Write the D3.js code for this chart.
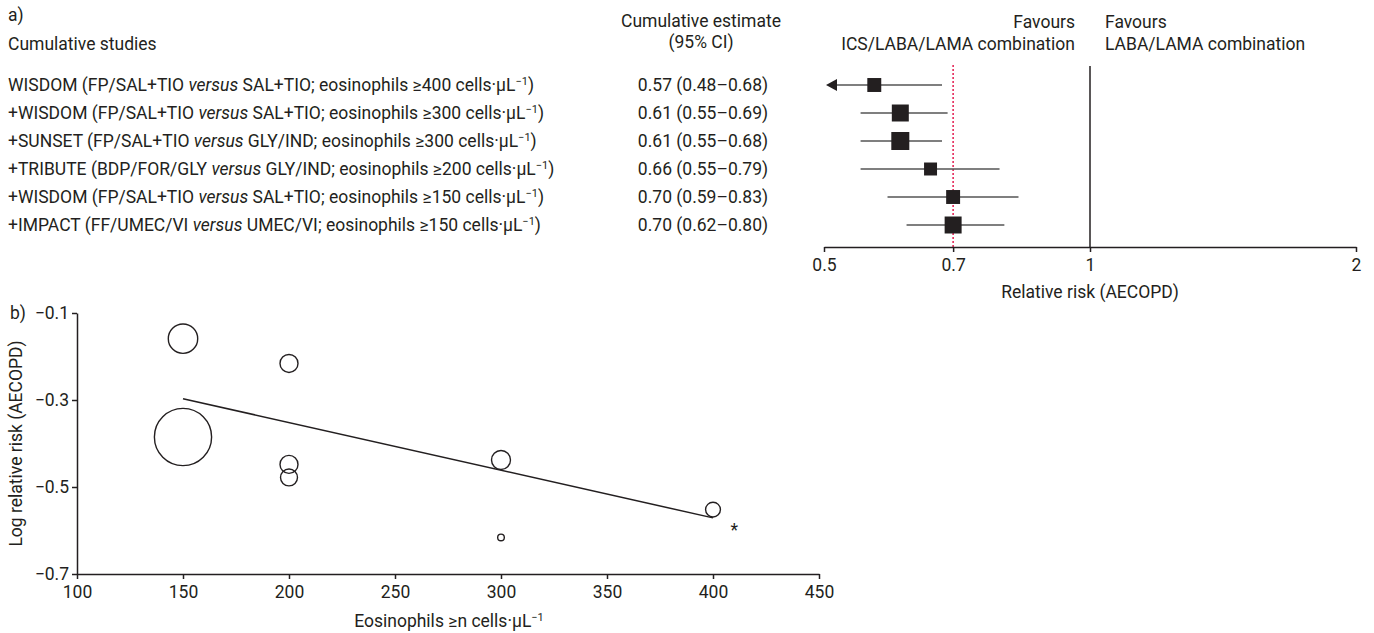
<!DOCTYPE html>
<html>
<head>
<meta charset="utf-8">
<script src="https://cdn.jsdelivr.net/npm/d3@7"></script>
<style>
  body { margin: 0; background: #fff; }
  svg { display: block; font-family: Roboto, "Noto Sans", sans-serif; }
  text { fill: #231f20; font-size: 17.5px; }
</style>
</head>
<body>
<svg width="1374" height="633"></svg>
<script>
// panel a: cumulative meta-analysis
const studies = ["WISDOM", "+WISDOM", "+SUNSET", "+TRIBUTE", "+WISDOM", "+IMPACT"];
const treatment = ["FP/SAL+TIO", "FP/SAL+TIO", "FP/SAL+TIO", "BDP/FOR/GLY", "FP/SAL+TIO", "FF/UMEC/VI"];
const comparator = ["SAL+TIO", "SAL+TIO", "GLY/IND", "GLY/IND", "SAL+TIO", "UMEC/VI"];
const eosCutoff = [400, 300, 300, 200, 150, 150];
const estimate = [0.57, 0.61, 0.61, 0.66, 0.70, 0.70];
const ciLow = [0.48, 0.55, 0.55, 0.55, 0.59, 0.62];
const ciHigh = [0.68, 0.69, 0.68, 0.79, 0.83, 0.80];
const weight = [60, 89, 100, 52, 60, 89];
const pooled = 0.70;
const rrTicks = [0.5, 0.7, 1, 2];

// panel b: meta-regression
const eosX = [150, 150, 200, 200, 200, 300, 300, 400];
const logRR = [-0.159, -0.385, -0.216, -0.448, -0.478, -0.438, -0.616, -0.552];
const bubbleWeight = [216, 818, 81, 81, 72, 90, 11, 55];
const fitX = [150, 400];
const fitY = [-0.297, -0.571];
const starPoint = [410, -0.597];
const eosTicks = [100, 150, 200, 250, 300, 350, 400, 450];
const lrrTicks = [-0.7, -0.5, -0.3, -0.1];

const ink = "#231f20";
const svg = d3.select("svg");

const rows = studies.map((s, i) => ({
    study: s, treat: treatment[i], comp: comparator[i], eos: eosCutoff[i],
    est: estimate[i], lo: ciLow[i], hi: ciHigh[i], w: weight[i], idx: i
}));

const x = d3.scaleLog().domain([0.5, 2]).range([824, 1356]);
const y = d3.scalePoint().domain(d3.range(rows.length)).range([85, 225]);
const side = d3.scaleSqrt().domain([0, 100]).range([0, 18]);

// headers
const header = svg.append("g");
header.append("text").attr("x", 8).attr("y", 21).text("a)");
header.append("text").attr("x", 8).attr("y", 50).text("Cumulative studies");
header.append("text").attr("x", 701).attr("y", 27).attr("text-anchor", "middle").text("Cumulative estimate");
header.append("text").attr("x", 701).attr("y", 48).attr("text-anchor", "middle").text("(95% CI)");
header.append("text").attr("x", 1075).attr("y", 28).attr("text-anchor", "end").text("Favours");
header.append("text").attr("x", 1075).attr("y", 50).attr("text-anchor", "end").text("ICS/LABA/LAMA combination");
header.append("text").attr("x", 1105).attr("y", 28).text("Favours");
header.append("text").attr("x", 1105).attr("y", 50).text("LABA/LAMA combination");

// study labels
const labels = svg.append("g").selectAll("text")
    .data(rows).enter().append("text")
    .attr("x", 8)
    .attr("y", d => y(d.idx) + 6);
labels.append("tspan").text(d => `${d.study} (${d.treat} `);
labels.append("tspan").attr("font-style", "italic").text("versus");
labels.append("tspan").text(d => ` ${d.comp}; eosinophils \u2265${d.eos} cells\u00b7\u00b5L`);
labels.append("tspan").attr("dy", -6).attr("font-size", 11).text("\u22121");
labels.append("tspan").attr("dy", 6).text(")");

svg.append("g").selectAll("text")
    .data(rows).enter().append("text")
    .attr("x", 703)
    .attr("y", d => y(d.idx) + 6)
    .attr("text-anchor", "middle")
    .text(d => `${d.est.toFixed(2)} (${d.lo.toFixed(2)}\u2013${d.hi.toFixed(2)})`);

// reference lines
svg.append("line")
    .attr("x1", x(1)).attr("x2", x(1))
    .attr("y1", 66).attr("y2", 247)
    .attr("stroke", ink).attr("stroke-width", 1.5);
svg.append("line")
    .attr("x1", x(pooled)).attr("x2", x(pooled))
    .attr("y1", 65).attr("y2", 247)
    .attr("stroke", "#e31b4f").attr("stroke-width", 1.5)
    .attr("stroke-dasharray", "2,2");

// CIs, clipped at axis minimum with an arrow
const forest = svg.append("g");
forest.selectAll("line.ci")
    .data(rows).enter().append("line")
    .attr("class", "ci")
    .attr("x1", d => x(Math.max(d.lo, 0.5)) + (d.lo < 0.5 ? 6 : 0))
    .attr("x2", d => x(d.hi))
    .attr("y1", d => y(d.idx)).attr("y2", d => y(d.idx))
    .attr("stroke", "#555").attr("stroke-width", 1.6);
forest.selectAll("path.arrow")
    .data(rows.filter(d => d.lo < 0.5)).enter().append("path")
    .attr("class", "arrow")
    .attr("d", d => {
        const x0 = x(0.5) + 2, yy = y(d.idx);
        return `M${x0},${yy}L${x0 + 11},${yy - 6}L${x0 + 11},${yy + 6}Z`;
    })
    .attr("fill", ink);
forest.selectAll("rect")
    .data(rows).enter().append("rect")
    .attr("x", d => x(d.est) - side(d.w) / 2)
    .attr("y", d => y(d.idx) - side(d.w) / 2)
    .attr("width", d => side(d.w))
    .attr("height", d => side(d.w))
    .attr("fill", ink);

// forest axis
const fAxis = svg.append("g")
    .attr("transform", "translate(0,247)")
    .call(d3.axisBottom(x).tickValues(rrTicks).tickFormat(d => String(d)).tickSize(5).tickSizeOuter(0));
fAxis.select(".domain").attr("stroke", ink).attr("stroke-width", 1.5);
fAxis.selectAll(".tick line").attr("stroke", ink).attr("stroke-width", 1.5);
fAxis.selectAll(".tick text").attr("font-size", 17.5).attr("font-family", "Roboto").attr("fill", ink).attr("dy", "0.9em");
svg.append("text").attr("x", x(1)).attr("y", 298).attr("text-anchor", "middle").text("Relative risk (AECOPD)");

// panel b
const bx = d3.scaleLinear().domain([100, 450]).range([77, 819]);
const by = d3.scaleLinear().domain([-0.7, -0.1]).range([574, 313]);
const br = d3.scaleSqrt().domain([0, 818]).range([0, 28.6]);

svg.append("text").attr("x", 10).attr("y", 319).text("b)");

const gx = svg.append("g")
    .attr("transform", "translate(0,574)")
    .call(d3.axisBottom(bx).tickValues(eosTicks).tickSize(5).tickSizeOuter(0));
const gy = svg.append("g")
    .attr("transform", "translate(77,0)")
    .call(d3.axisLeft(by).tickValues(lrrTicks).tickFormat(d3.format(".1f")).tickSize(5).tickSizeOuter(0));
[gx, gy].forEach(g => {
    g.select(".domain").attr("stroke", ink).attr("stroke-width", 1.5);
    g.selectAll(".tick line").attr("stroke", ink).attr("stroke-width", 1.5);
    g.selectAll(".tick text").attr("font-size", 17.5).attr("font-family", "Roboto").attr("fill", ink);
});
gx.selectAll(".tick text").attr("dy", "0.9em");

svg.append("text")
    .attr("transform", `translate(22,${(313 + 574) / 2}) rotate(-90)`)
    .attr("text-anchor", "middle")
    .text("Log relative risk (AECOPD)");

const xt = svg.append("text")
    .attr("x", 449).attr("y", 627)
    .attr("text-anchor", "middle");
xt.append("tspan").text("Eosinophils \u2265n cells\u00b7\u00b5L");
xt.append("tspan").attr("dy", -6).attr("font-size", 11).text("\u22121");

svg.append("g").selectAll("circle")
    .data(eosX.map((v, i) => ({ eos: v, lrr: logRR[i], w: bubbleWeight[i] })))
    .enter().append("circle")
    .attr("cx", d => bx(d.eos))
    .attr("cy", d => by(d.lrr))
    .attr("r", d => br(d.w))
    .attr("fill", "none")
    .attr("stroke", ink)
    .attr("stroke-width", 1.4);

svg.append("path")
    .datum(fitX.map((v, i) => [v, fitY[i]]))
    .attr("d", d3.line().x(d => bx(d[0])).y(d => by(d[1])))
    .attr("stroke", ink).attr("stroke-width", 1.5).attr("fill", "none");

svg.append("text")
    .attr("x", bx(starPoint[0])).attr("y", by(starPoint[1]) + 7)
    .attr("text-anchor", "middle")
    .attr("font-size", 14)
    .text("*");
</script>
</body>
</html>
